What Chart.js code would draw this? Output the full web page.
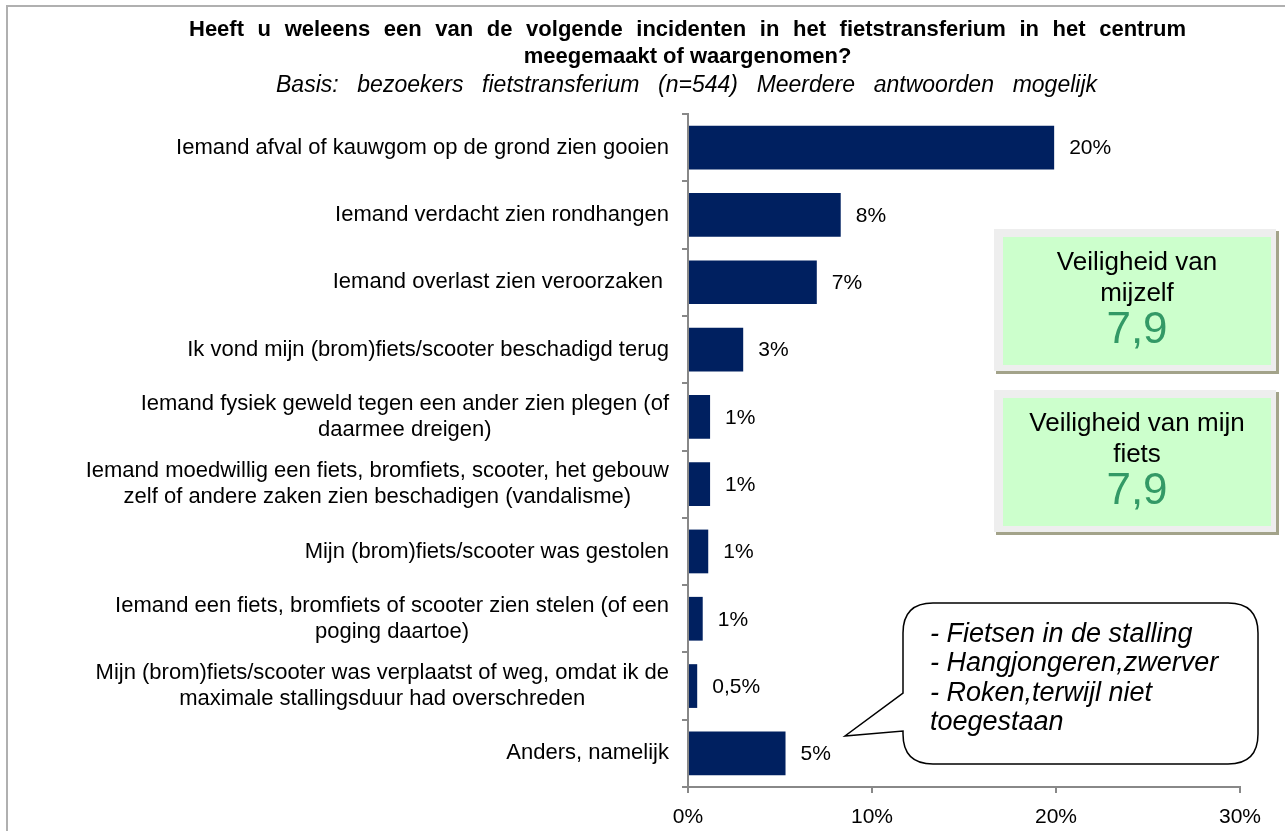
<!DOCTYPE html>
<html>
<head>
<meta charset="utf-8">
<script src="https://cdn.jsdelivr.net/npm/chart.js@4.4.0/dist/chart.umd.min.js"></script>
<style>
  html, body { margin: 0; padding: 0; background: #fff; }
  #wrap { width: 1285px; height: 831px; position: relative; }
</style>
</head>
<body>
<div id="wrap"><canvas id="incidentChart"></canvas></div>
<script>
// categories, top to bottom (each entry = the lines of the label)
const categories = [
    ['Iemand afval of kauwgom op de grond zien gooien'],
    ['Iemand verdacht zien rondhangen'],
    ['Iemand overlast zien veroorzaken '],
    ['Ik vond mijn (brom)fiets/scooter beschadigd terug'],
    ['Iemand fysiek geweld tegen een ander zien plegen (of', 'daarmee dreigen)'],
    ['Iemand moedwillig een fiets, bromfiets, scooter, het gebouw', 'zelf of andere zaken zien beschadigen (vandalisme)'],
    ['Mijn (brom)fiets/scooter was gestolen'],
    ['Iemand een fiets, bromfiets of scooter zien stelen (of een', 'poging daartoe)'],
    ['Mijn (brom)fiets/scooter was verplaatst of weg, omdat ik de', 'maximale stallingsduur had overschreden'],
    ['Anders, namelijk']
];
const percentages = [19.9, 8.3, 7.0, 3.0, 1.2, 1.2, 1.1, 0.8, 0.5, 5.3];
const valueLabels = ['20%', '8%', '7%', '3%', '1%', '1%', '1%', '1%', '0,5%', '5%'];
const xTicks = [0, 10, 20, 30];

const titleLines = ['Heeft u weleens een van de volgende incidenten in het fietstransferium in het centrum', 'meegemaakt of waargenomen?'];
const subtitleText = 'Basis: bezoekers fietstransferium (n=544) Meerdere antwoorden mogelijk';

const scoreTitles = [['Veiligheid van', 'mijzelf'], ['Veiligheid van mijn', 'fiets']];
const scoreValues = ['7,9', '7,9'];

const calloutLines = ['- Fietsen in de stalling', '- Hangjongeren,zwerver', '- Roken,terwijl niet', 'toegestaan'];

const FONT = '"Liberation Sans", Arial, sans-serif';
Chart.defaults.font.family = FONT;
Chart.defaults.color = '#000';

const AXIS_GREY = '#888888';

// draw a centered line, widening the word gaps up to the target width
function spacedLine(ctx, text, cx, y, target) {
    const canSpace = 'wordSpacing' in ctx;
    if (canSpace) ctx.wordSpacing = '0px';
    const w = ctx.measureText(text).width;
    const gaps = text.split(' ').length - 1;
    if (canSpace && gaps > 0 && w < target) {
        ctx.wordSpacing = ((target - w) / gaps) + 'px';
    }
    ctx.fillText(text, cx, y);
    if (canSpace) ctx.wordSpacing = '0px';
}

// background, outer frame, title block
const framePlugin = {
    id: 'frame',
    beforeDraw(chart) {
        const ctx = chart.ctx;
        ctx.save();
        ctx.fillStyle = '#fff';
        ctx.fillRect(0, 0, chart.width, chart.height);
        ctx.strokeStyle = '#b0b0b0';
        ctx.lineWidth = 2;
        ctx.beginPath();
        ctx.moveTo(7, chart.height);
        ctx.lineTo(7, 6);
        ctx.lineTo(chart.width, 6);
        ctx.stroke();

        ctx.fillStyle = '#000';
        ctx.textAlign = 'center';
        ctx.textBaseline = 'middle';
        ctx.font = 'bold 22px ' + FONT;
        spacedLine(ctx, titleLines[0], 687.5, 30, 997);
        spacedLine(ctx, titleLines[1], 687.5, 57, 302);
        ctx.font = 'italic 23px ' + FONT;
        spacedLine(ctx, subtitleText, 686.5, 86, 821);
        ctx.restore();
    }
};

// category labels: right block, lines centered inside the block
const yLabelPlugin = {
    id: 'yLabels',
    afterDraw(chart) {
        const ctx = chart.ctx;
        const y = chart.scales.y;
        ctx.save();
        ctx.font = '22px ' + FONT;
        ctx.fillStyle = '#000';
        ctx.textBaseline = 'middle';
        ctx.textAlign = 'center';
        const right = y.right - 19;
        chart.data.labels.forEach((lines, i) => {
            const yc = y.getPixelForValue(i);
            const widest = Math.max(...lines.map(l => ctx.measureText(l).width));
            const cx = right - widest / 2;
            lines.forEach((line, k) => {
                ctx.fillText(line, cx, yc + (k - (lines.length - 1) / 2) * 26);
            });
        });
        ctx.restore();
    }
};

// value labels right of bars
const valueLabelPlugin = {
    id: 'valueLabels',
    afterDatasetsDraw(chart) {
        const ctx = chart.ctx;
        const meta = chart.getDatasetMeta(0);
        ctx.save();
        ctx.font = '21px ' + FONT;
        ctx.fillStyle = '#000';
        ctx.textBaseline = 'middle';
        ctx.textAlign = 'left';
        meta.data.forEach((bar, i) => {
            ctx.fillText(valueLabels[i], bar.x + 15, bar.y + 1);
        });
        ctx.restore();
    }
};

// green score boxes and the speech bubble
const annotationPlugin = {
    id: 'extras',
    afterDraw(chart) {
        const ctx = chart.ctx;
        ctx.save();

        const boxTops = [229, 390];
        boxTops.forEach((top, i) => {
            // shadow
            ctx.fillStyle = '#a3a38a';
            ctx.fillRect(996, top + 2, 283, 143);
            // grey frame
            ctx.fillStyle = '#eeeeee';
            ctx.fillRect(994, top, 282, 142);
            // green panel
            ctx.fillStyle = '#ccffcc';
            ctx.fillRect(1003, top + 8, 268, 128);

            const cx = 1137;
            ctx.textAlign = 'center';
            ctx.textBaseline = 'middle';
            ctx.fillStyle = '#000';
            ctx.font = '26px ' + FONT;
            scoreTitles[i].forEach((line, k) => {
                ctx.fillText(line, cx, top + 34 + k * 31);
            });
            ctx.fillStyle = '#339966';
            ctx.font = '44px ' + FONT;
            ctx.fillText(scoreValues[i], cx, top + 102);
        });

        // speech bubble
        const l = 903, r = 1258, t = 603, b = 764, rad = 30;
        ctx.beginPath();
        ctx.moveTo(l + rad, t);
        ctx.lineTo(r - rad, t);
        ctx.quadraticCurveTo(r, t, r, t + rad);
        ctx.lineTo(r, b - rad);
        ctx.quadraticCurveTo(r, b, r - rad, b);
        ctx.lineTo(l + rad, b);
        ctx.quadraticCurveTo(l, b, l, b - rad);
        ctx.lineTo(l, 731);
        ctx.lineTo(845, 736);
        ctx.lineTo(l, 693);
        ctx.lineTo(l, t + rad);
        ctx.quadraticCurveTo(l, t, l + rad, t);
        ctx.closePath();
        ctx.fillStyle = '#fff';
        ctx.fill();
        ctx.strokeStyle = '#000';
        ctx.lineWidth = 1.5;
        ctx.stroke();

        ctx.fillStyle = '#000';
        ctx.font = 'italic 27px ' + FONT;
        ctx.textAlign = 'left';
        ctx.textBaseline = 'middle';
        calloutLines.forEach((line, k) => {
            ctx.fillText(line, 930, 634 + k * 29.5);
        });

        ctx.restore();
    }
};

const ctx = document.getElementById('incidentChart').getContext('2d');

const incidentChart = new Chart(ctx, {
    type: 'bar',
    data: {
        labels: categories,
        datasets: [{
            data: percentages,
            backgroundColor: '#002060',
            barPercentage: 0.65,
            categoryPercentage: 1
        }]
    },
    plugins: [framePlugin, yLabelPlugin, valueLabelPlugin, annotationPlugin],
    options: {
        indexAxis: 'y',
        responsive: true,
        maintainAspectRatio: false,
        animation: false,
        layout: {
            padding: { left: 135, right: 45, top: 114, bottom: 0 }
        },
        plugins: {
            legend: { display: false },
            tooltip: { enabled: false },
            title: { display: false }
        },
        scales: {
            x: {
                min: xTicks[0],
                max: xTicks[xTicks.length - 1],
                afterBuildTicks: (scale) => {
                    scale.ticks = xTicks.map(v => ({ value: v }));
                },
                ticks: {
                    callback: (v) => v + '%',
                    color: '#000',
                    font: { size: 21 },
                    padding: 12,
                    maxRotation: 0
                },
                grid: {
                    drawOnChartArea: false,
                    tickLength: 6,
                    color: AXIS_GREY,
                    lineWidth: 2
                },
                border: { color: AXIS_GREY, width: 2 },
                afterFit: (scale) => {
                    scale.height = 44;
                    scale.paddingLeft = 0;
                    scale.paddingRight = 0;
                }
            },
            y: {
                ticks: { display: false },
                grid: {
                    drawOnChartArea: false,
                    offset: true,
                    tickLength: 6,
                    color: AXIS_GREY,
                    lineWidth: 2
                },
                border: { color: AXIS_GREY, width: 2 },
                afterFit: (scale) => {
                    scale.width = 553;
                }
            }
        }
    }
});
</script>
</body>
</html>
